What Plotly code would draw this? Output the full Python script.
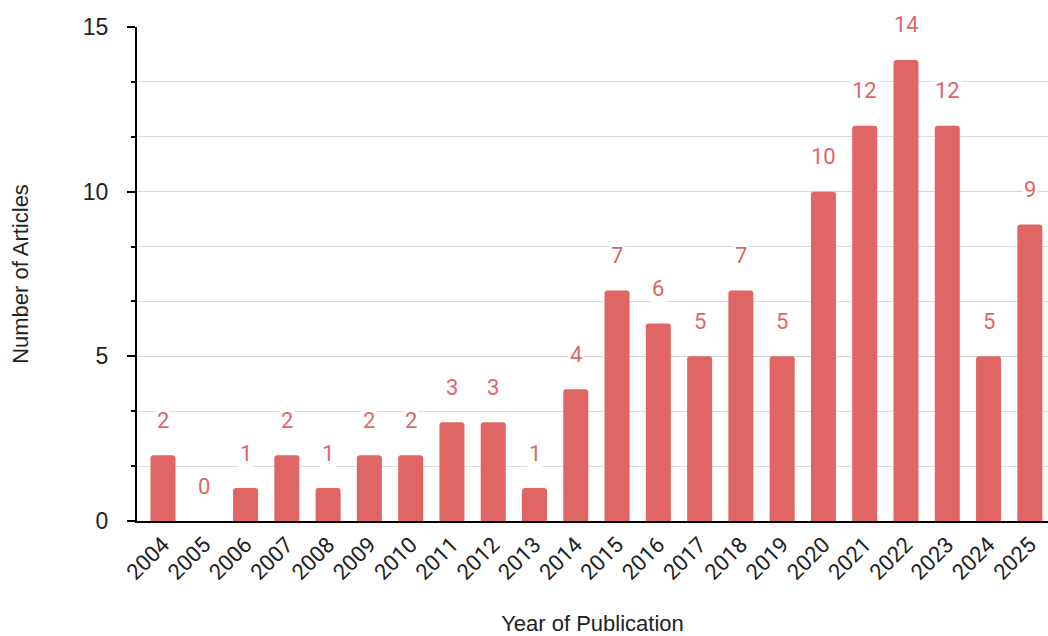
import plotly.graph_objects as go

years = [str(y) for y in range(2004, 2026)]
articles = [2, 0, 1, 2, 1, 2, 2, 3, 3, 1, 4, 7, 6, 5, 7, 5, 10, 12, 14, 12, 5, 9]

bar_color = "#e06666"

fig = go.Figure()
fig.add_trace(go.Bar(
    x=years, y=articles,
    marker=dict(color=bar_color, cornerradius=3, line=dict(width=0)),
    hoverinfo="x+y",
))

annotations = []
for i, v in enumerate(articles):
    annotations.append(dict(
        x=i, y=v, xref="x", yref="y", text=str(v), showarrow=False,
        yshift=35, font=dict(family="Roboto", size=22, color=bar_color),
        bgcolor="white", borderpad=1,
    ))

fig.update_layout(
    width=1048, height=636,
    paper_bgcolor="white", plot_bgcolor="white",
    margin=dict(l=137, r=0, t=27, b=115),
    bargap=0.394,
    showlegend=False,
    annotations=annotations,
    xaxis=dict(
        type="category",
        range=[-0.63, 21.44],
        tickangle=-45,
        tickfont=dict(family="Roboto", size=22, color="#222222"),
        showline=True, linecolor="black", linewidth=2,
        ticks="", showgrid=False,
        title=dict(text="Year of Publication", font=dict(family="Liberation Sans, Arial", size=22, color="#222222"), standoff=34),
    ),
    yaxis=dict(
        range=[0, 15], tickvals=[0, 5, 10, 15],
        tickfont=dict(family="Liberation Sans, Arial", size=23, color="#222222"),
        showline=True, linecolor="black", linewidth=2,
        ticks="outside", ticklen=8, tickwidth=2, tickcolor="black",
        ticklabelstandoff=14,
        showgrid=True, gridcolor="#d6d6d6", gridwidth=1,
        zeroline=False,
        minor=dict(dtick=5/3, tick0=0, showgrid=True, gridcolor="#dddddd",
                   ticks="outside", ticklen=4, tickcolor="black", tickwidth=2),
        title=dict(text="Number of Articles", font=dict(family="Liberation Sans, Arial", size=22, color="#222222"), standoff=48),
    ),
)

fig.write_html(
    "out.html",
    config={"displayModeBar": False},
    post_script="document.body.style.margin='0';document.body.style.overflow='hidden';",
)
